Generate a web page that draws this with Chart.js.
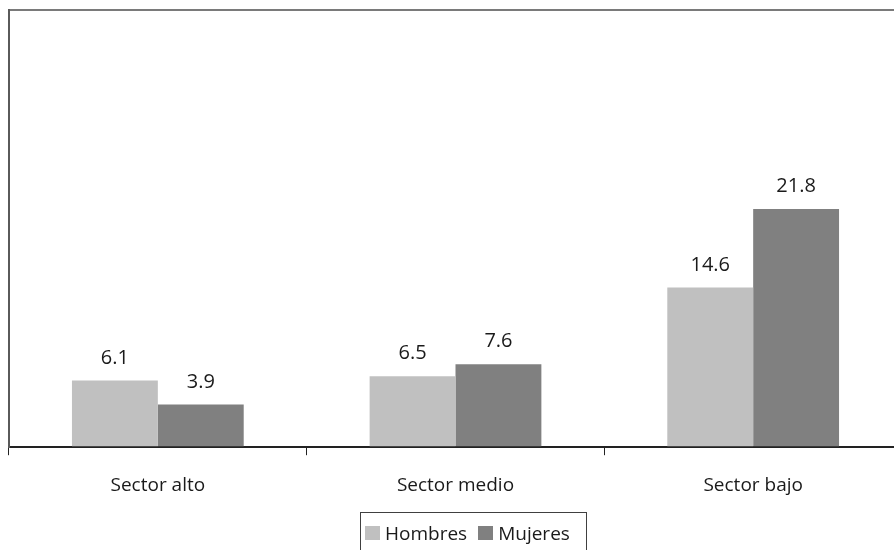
<!DOCTYPE html>
<html>
<head>
<meta charset="utf-8">
<script src="https://cdn.jsdelivr.net/npm/chart.js@4"></script>
<style>
    html, body { margin: 0; padding: 0; background: #fff; overflow: hidden; }
    #wrap { position: relative; width: 904px; height: 550px; }
    #legend {
        position: absolute; left: 360px; top: 512px; width: 227px; height: 44px;
        border: 1px solid #404040; box-sizing: border-box;
        font: 19px 'Open Sans', sans-serif; color: #1a1a1a;
        display: flex; align-items: center; padding-left: 4px; padding-bottom: 2px;
    }
    #legend span.item { display: flex; align-items: center; margin-right: 11px; }
    #legend span.box { width: 15px; height: 14px; margin-right: 5px; display: inline-block; }
</style>
</head>
<body>
<div id="wrap">
    <canvas id="barChart" width="904" height="550"></canvas>
    <div id="legend"></div>
</div>
<script>
// 數據
const categories = ['Sector alto', 'Sector medio', 'Sector bajo'];
const hombres = [6.1, 6.5, 14.6];
const mujeres = [3.9, 7.6, 21.8];
const seriesNames = ['Hombres', 'Mujeres'];
const seriesColors = ['#c0c0c0', '#808080'];
const yMax = 40;

const FONT = "'Open Sans', sans-serif";

// 在柱子上方寫數值
const valueLabels = {
    id: 'valueLabels',
    afterDatasetsDraw(chart) {
        const ctx = chart.ctx;
        ctx.save();
        ctx.font = '20px ' + FONT;
        ctx.fillStyle = '#1a1a1a';
        ctx.textAlign = 'center';
        ctx.textBaseline = 'alphabetic';
        chart.data.datasets.forEach((ds, i) => {
            const meta = chart.getDatasetMeta(i);
            meta.data.forEach((bar, j) => {
                ctx.fillText(ds.data[j].toFixed(1), bar.x, bar.y - 17);
            });
        });
        ctx.restore();
    }
};

const datasets = [hombres, mujeres].map((vals, i) => ({
    label: seriesNames[i],
    data: vals,
    backgroundColor: seriesColors[i],
    borderWidth: 0,
    barPercentage: 1,
    categoryPercentage: 0.577
}));

const ctx = document.getElementById('barChart').getContext('2d');
const chart = new Chart(ctx, {
    type: 'bar',
    data: { labels: categories, datasets: datasets },
    options: {
        responsive: false,
        animation: false,
        layout: { padding: { top: 10, left: 9, right: 2, bottom: 34 } },
        plugins: {
            legend: { display: false },
            tooltip: { enabled: false }
        },
        scales: {
            x: {
                grid: {
                    display: true,
                    drawOnChartArea: false,
                    drawTicks: true,
                    tickLength: 8,
                    color: '#222',
                    offset: true
                },
                border: { display: true, color: '#222', width: 2 },
                ticks: { color: '#1a1a1a', font: { family: FONT, size: 19 }, padding: 19 }
            },
            y: {
                min: 0,
                max: yMax,
                ticks: { display: false, stepSize: yMax },
                grid: {
                    drawTicks: false,
                    lineWidth: 2,
                    color: c => (c.tick && c.tick.value === yMax) ? '#7a7a7a' : 'rgba(0,0,0,0)'
                },
                border: { display: true, color: '#5a5a5a', width: 2 }
            }
        }
    },
    plugins: [valueLabels]
});

// 圖例
const legend = document.getElementById('legend');
seriesNames.forEach((name, i) => {
    const item = document.createElement('span');
    item.className = 'item';
    item.innerHTML = `<span class="box" style="background:${seriesColors[i]}"></span>${name}`;
    legend.appendChild(item);
});
</script>
</body>
</html>
